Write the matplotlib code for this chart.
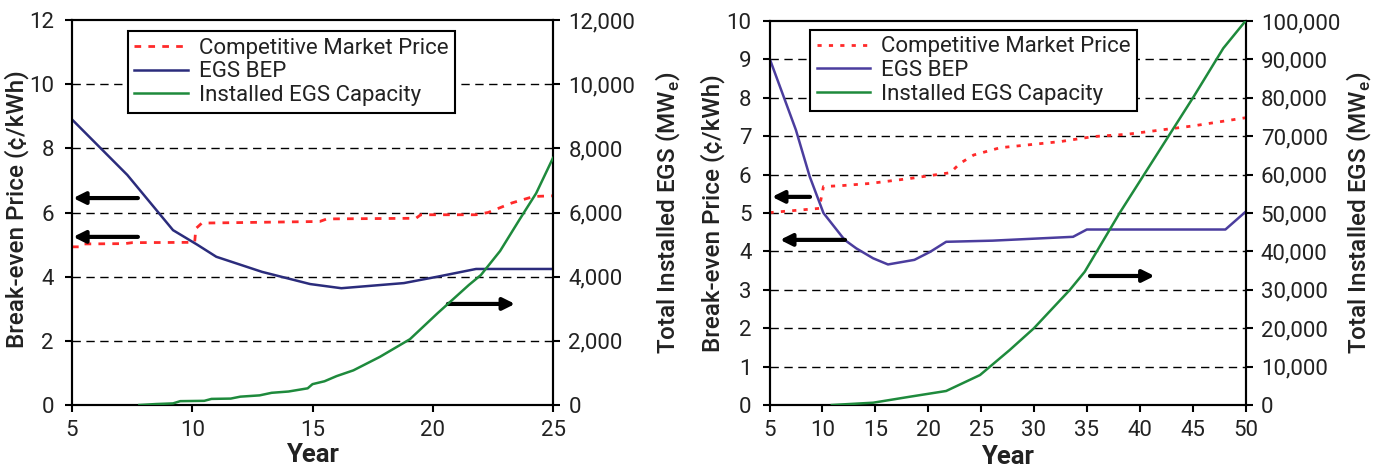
import matplotlib
matplotlib.use("Agg")
import matplotlib.pyplot as plt
from matplotlib.ticker import FuncFormatter, MultipleLocator

# ---------------- data ----------------
# Left panel (years 5-25)
L_bep_year = [5, 7.3, 9.2, 10.2, 11.0, 12.9, 14.9, 16.2, 18.8, 20.2, 21.8, 25]
L_bep_val = [8.9, 7.17, 5.45, 5.0, 4.62, 4.15, 3.77, 3.64, 3.8, 4.0, 4.24, 4.24]

L_mkt_year = [5.0, 5.4, 5.5, 7.2, 7.5, 10.1, 10.15, 10.4, 15.3, 15.6, 19.3, 19.5, 21.8, 22.3, 23.3, 24.2, 25.0]
L_mkt_val = [4.93, 4.93, 5.02, 5.03, 5.06, 5.07, 5.5, 5.67, 5.72, 5.8, 5.82, 5.93, 5.93, 6.0, 6.3, 6.5, 6.52]

L_cap_year = [7.8, 8.5, 9.2, 9.5, 10.5, 10.8, 11.6, 12.0, 12.8, 13.3, 14.0, 14.8, 15.0, 15.5,
              16.0, 16.7, 17.8, 19.05, 20.2, 21.5, 22.0, 22.8, 23.6, 24.3, 25.0]
L_cap_val = [0, 30, 50, 120, 130, 190, 200, 260, 300, 380, 420, 520, 650, 740,
             900, 1080, 1500, 2050, 2860, 3740, 4050, 4800, 5770, 6600, 7700]

# Right panel (years 5-50)
R_bep_year = [5, 7.5, 8.8, 10.1, 12.1, 13.2, 14.8, 16.2, 18.7, 20.2, 21.7, 26.1, 33.7, 35.0, 48.1, 50]
R_bep_val = [9.03, 7.16, 5.95, 5.0, 4.3, 4.08, 3.82, 3.66, 3.78, 3.99, 4.25, 4.28, 4.38, 4.57, 4.57, 5.03]

R_mkt_year = [5, 9.7, 10.1, 11.7, 14.5, 18.3, 22.1, 23.0, 24.3, 26.8, 32.5, 35.6, 38.8, 45.1, 50]
R_mkt_val = [5.01, 5.12, 5.69, 5.71, 5.77, 5.9, 6.05, 6.29, 6.51, 6.7, 6.86, 6.99, 7.05, 7.27, 7.48]

R_cap_year = [10.9, 14.8, 18.3, 21.7, 24.9, 27.7, 30.0, 33.4, 34.8, 38.1, 45.1, 47.9, 50]
R_cap_val = [0, 600, 2170, 3650, 7800, 14300, 20000, 30000, 34700, 50000, 80300, 92900, 100000]

legend_labels = ["Competitive Market Price", "EGS BEP", "Installed EGS Capacity"]
ylabel_left = "Break-even Price (¢/kWh)"
ylabel_right = r"Total Installed EGS (MW$_\mathregular{e}$)"
xlabel = "Year"

# ---------------- style ----------------
FONT = "Roboto"
plt.rcParams["font.family"] = [FONT, "DejaVu Sans"]
plt.rcParams["mathtext.fontset"] = "custom"
plt.rcParams["mathtext.rm"] = FONT
TICK_FS = 16
LEG_FS = 16
LAB_FS = 17.5

RED = "#ff2a2a"
GREEN = "#1e8a3c"
BLUE_L = "#2b2c7c"
BLUE_R = "#4b3d9e"
TXT = "#222222"

fig = plt.figure(figsize=(13.75, 4.71), dpi=100)


def comma(v, pos):
    return f"{int(round(v)):,}"


def make_panel(rect, xlim, xstep, ylim, ystep, y2lim, y2step,
               mk_x, mk_y, bep_x, bep_y, cap_x, cap_y, blue, mkt_dash,
               legend_anchor, arrows_left, arrow_right, lab_coords):
    ax = fig.add_axes(rect)
    ax2 = ax.twinx()
    ax.set_xlim(*xlim)
    ax.set_ylim(*ylim)
    ax2.set_ylim(*y2lim)
    ax.xaxis.set_major_locator(MultipleLocator(xstep))
    ax.yaxis.set_major_locator(MultipleLocator(ystep))
    ax2.yaxis.set_major_locator(MultipleLocator(y2step))
    ax2.yaxis.set_major_formatter(FuncFormatter(comma))

    # gridlines
    for v in range(int(ylim[0]) + ystep, int(ylim[1]), ystep):
        ax.axhline(v, color="black", lw=1.0, ls=(0, (6, 4)), zorder=1)

    l1, = ax.plot(mk_x, mk_y, color=RED, lw=2.0, ls=mkt_dash, zorder=3)
    l2, = ax.plot(bep_x, bep_y, color=blue, lw=1.8, zorder=3)
    l3, = ax2.plot(cap_x, cap_y, color=GREEN, lw=1.8, zorder=3)

    for a in (ax, ax2):
        for s in a.spines.values():
            s.set_linewidth(1.5)
            s.set_color("black")
        a.tick_params(direction="out", length=5, width=1.5, labelsize=TICK_FS,
                      colors="black", labelcolor=TXT)
    ax.tick_params(axis="y", pad=8)
    ax.tick_params(axis="x", pad=6)
    ax2.tick_params(axis="y", pad=6)

    ap = dict(arrowstyle="-|>,head_length=0.7,head_width=0.35", color="black", lw=3,
              shrinkA=0, shrinkB=0)
    for (x0, x1, y) in arrows_left:
        ax.annotate("", xy=(x1, y), xytext=(x0, y), arrowprops=ap, zorder=4)
    x0, x1, y = arrow_right
    ax.annotate("", xy=(x1, y), xytext=(x0, y), arrowprops=ap, zorder=4)

    leg = ax2.legend([l1, l2, l3], legend_labels, loc="upper left",
                     bbox_to_anchor=legend_anchor, fontsize=LEG_FS, frameon=True,
                     fancybox=False, framealpha=1, edgecolor="black",
                     handlelength=2.4, handletextpad=0.5, labelspacing=0.12,
                     borderpad=0.3, borderaxespad=0)
    leg.get_frame().set_linewidth(1.5)
    for t in leg.get_texts():
        t.set_color(TXT)

    ax.set_ylabel(ylabel_left, fontsize=LAB_FS, fontweight="medium", color=TXT)
    ax2.set_ylabel(ylabel_right, fontsize=LAB_FS, fontweight="medium", color=TXT)
    ax.set_xlabel(xlabel, fontsize=LAB_FS + 1, fontweight="bold", color=TXT)
    ax.yaxis.set_label_coords(*lab_coords[0])
    ax2.yaxis.set_label_coords(*lab_coords[1])
    ax.xaxis.set_label_coords(*lab_coords[2])
    return ax, ax2


make_panel([72 / 1375, 1 - 405 / 471, 481 / 1375, 385 / 471],
           (5, 25), 5, (0, 12), 2, (0, 12000), 2000,
           L_mkt_year, L_mkt_val, L_bep_year, L_bep_val, L_cap_year, L_cap_val,
           BLUE_L, (0, (2.4, 2.6)), (0.116, 0.971),
           [(7.74, 5.05, 6.45), (7.74, 5.05, 5.24)], (20.63, 23.42, 3.15),
           [(-0.09, 0.51), (1.208, 0.50), (0.5, -0.1)])

make_panel([769.5 / 1375, 1 - 405 / 471, 476 / 1375, 384 / 471],
           (5, 50), 5, (0, 10), 1, (0, 100000), 10000,
           R_mkt_year, R_mkt_val, R_bep_year, R_bep_val, R_cap_year, R_cap_val,
           BLUE_R, (0, (1.5, 2.6)), (0.085, 0.977),
           [(8.83, 5.24, 5.42), (12.14, 6.0, 4.3)], (35.3, 41.4, 3.36),
           [(-0.0935, 0.50), (1.208, 0.50), (0.5, -0.105)])

fig.savefig("out.png", dpi=100)
